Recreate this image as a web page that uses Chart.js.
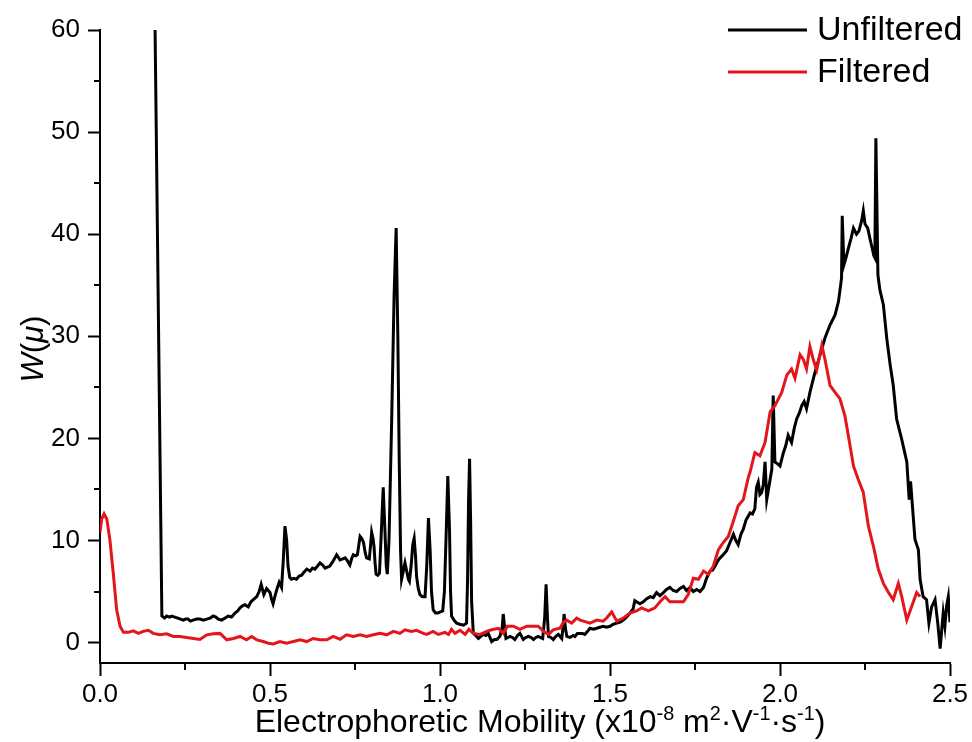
<!DOCTYPE html>
<html>
<head>
<meta charset="utf-8">
<title>Electrophoretic mobility distribution</title>
<script src="https://cdn.jsdelivr.net/npm/chart.js@4.4.1/dist/chart.umd.min.js"></script>
<style>
  html, body { margin: 0; padding: 0; background: #ffffff; }
  #wrap { position: relative; width: 972px; height: 742px; }
</style>
</head>
<body>
<div id="wrap"><canvas id="chart" width="972" height="742"></canvas></div>
<script>
// Mobility (x1e-8 m2/Vs) and W(mu) for the unfiltered sample
const unfilteredX = [0.162,0.182,0.19,0.196,0.205,0.211,0.22,0.229,0.245,0.252,0.259,0.266,0.274,0.284,0.294,0.304,0.314,0.324,0.333,0.341,0.348,0.358,0.368,0.377,0.387,0.397,0.405,0.412,0.419,0.426,0.436,0.444,0.451,0.461,0.468,0.474,0.478,0.482,0.49,0.5,0.505,0.509,0.515,0.52,0.527,0.534,0.539,0.544,0.549,0.553,0.558,0.563,0.57,0.578,0.585,0.593,0.6,0.608,0.618,0.625,0.632,0.64,0.647,0.655,0.662,0.669,0.676,0.686,0.696,0.706,0.714,0.721,0.728,0.735,0.74,0.745,0.752,0.757,0.761,0.765,0.77,0.775,0.78,0.784,0.792,0.796,0.799,0.803,0.806,0.809,0.812,0.817,0.822,0.827,0.833,0.838,0.842,0.845,0.85,0.858,0.865,0.871,0.876,0.88,0.884,0.887,0.892,0.897,0.902,0.907,0.91,0.915,0.92,0.924,0.928,0.931,0.936,0.941,0.948,0.956,0.961,0.966,0.971,0.975,0.98,0.987,0.994,1.001,1.008,1.013,1.018,1.023,1.028,1.031,1.034,1.041,1.049,1.058,1.069,1.078,1.081,1.084,1.087,1.09,1.093,1.098,1.105,1.113,1.12,1.127,1.135,1.142,1.152,1.16,1.167,1.176,1.183,1.186,1.19,1.194,1.2,1.206,1.213,1.22,1.228,1.235,1.245,1.252,1.26,1.268,1.275,1.282,1.289,1.295,1.302,1.308,1.312,1.316,1.319,1.326,1.333,1.34,1.348,1.358,1.362,1.365,1.369,1.373,1.382,1.392,1.397,1.404,1.412,1.419,1.426,1.434,1.441,1.451,1.461,1.47,1.48,1.49,1.5,1.51,1.52,1.53,1.539,1.549,1.559,1.568,1.573,1.578,1.588,1.598,1.608,1.618,1.627,1.637,1.647,1.657,1.666,1.676,1.686,1.696,1.706,1.716,1.725,1.735,1.745,1.755,1.765,1.775,1.784,1.794,1.802,1.809,1.817,1.824,1.833,1.843,1.853,1.863,1.87,1.877,1.885,1.892,1.9,1.912,1.919,1.926,1.931,1.936,1.941,1.946,1.951,1.956,1.961,1.966,1.971,1.976,1.98,1.985,1.993,2.0,2.01,2.017,2.024,2.034,2.042,2.049,2.057,2.064,2.071,2.078,2.088,2.103,2.118,2.132,2.147,2.162,2.172,2.181,2.183,2.188,2.195,2.201,2.209,2.216,2.225,2.232,2.24,2.245,2.25,2.258,2.265,2.272,2.276,2.279,2.282,2.288,2.294,2.304,2.314,2.324,2.333,2.343,2.358,2.373,2.38,2.384,2.397,2.407,2.412,2.421,2.431,2.438,2.446,2.456,2.464,2.471,2.48,2.485,2.49,2.495,2.5];
const unfilteredY = [60,2.6,2.4,2.6,2.5,2.6,2.5,2.4,2.2,2.3,2.3,2.1,2.2,2.3,2.3,2.2,2.3,2.4,2.6,2.5,2.3,2.2,2.4,2.6,2.5,2.9,3.1,3.4,3.6,3.7,3.5,4.0,4.2,4.5,5.0,5.7,5.2,4.7,5.3,4.9,4.2,3.8,4.6,5.2,5.9,5.4,8.0,11.4,10.0,7.5,6.4,6.2,6.3,6.2,6.5,6.6,6.9,7.2,7.0,7.3,7.2,7.5,7.8,7.6,7.3,7.4,7.5,8.0,8.6,8.1,8.2,8.3,8.0,7.6,8.2,8.6,8.5,8.6,9.5,10.4,10.2,9.8,8.8,8.3,8.2,9.6,10.8,10.2,9.4,7.8,6.7,6.6,6.8,10.5,15.2,11.0,7.5,6.7,10.0,22.0,34.0,40.6,30.0,18.0,9.0,6.2,7.0,7.8,7.0,6.2,6.0,7.5,9.6,10.2,8.5,6.5,5.3,4.7,4.5,4.5,7.5,12.2,9.0,5.0,3.2,2.9,2.9,3.0,3.1,5.0,10.5,16.3,11.0,5.0,2.6,2.2,1.9,1.8,1.7,1.9,6.0,14.0,18.0,12.0,4.0,0.9,0.7,0.4,0.6,0.8,0.7,0.9,0.1,0.3,0.3,0.6,1.5,2.8,1.5,0.4,0.5,0.6,0.5,0.3,0.7,0.9,0.3,0.5,0.6,0.5,0.3,0.5,0.6,0.5,0.4,2.5,5.7,2.5,0.6,0.5,0.3,0.6,0.8,0.4,1.5,2.8,1.4,0.6,0.5,0.7,0.6,0.9,0.9,0.9,0.8,1.1,1.4,1.3,1.4,1.5,1.6,1.5,1.6,1.8,1.9,2.0,2.2,2.5,2.9,3.3,4.1,4.0,3.8,4.0,4.3,4.5,4.4,4.9,4.6,4.9,5.2,5.4,5.1,5.0,5.3,5.5,5.1,5.4,5.0,5.2,5.0,5.4,6.3,7.0,7.1,7.5,8.0,8.3,8.6,9.0,9.8,10.6,10.0,9.6,10.6,11.1,12.0,12.7,12.6,13.1,15.2,15.7,14.5,14.7,15.5,17.7,14.0,15.0,16.0,17.0,24.2,17.7,17.5,17.3,18.6,19.3,20.3,19.6,21.0,21.9,22.5,23.2,23.6,22.9,24.5,26.5,28.2,29.8,31.1,32.1,33.4,35.7,41.8,37.0,37.8,38.6,39.6,40.6,40.0,40.3,41.3,42.3,41.0,40.6,39.5,38.5,37.9,37.7,49.4,36.0,34.5,33.1,29.8,27.2,25.2,21.9,19.9,17.7,14.0,15.8,10.1,9.1,6.2,4.5,4.2,1.9,3.5,4.2,1.9,-0.6,2.9,1.6,3.6,4.5,2.0,4.7];

// Mobility and W(mu) for the filtered sample
const filteredX = [0,0.005,0.012,0.02,0.029,0.039,0.049,0.059,0.069,0.083,0.098,0.113,0.127,0.142,0.157,0.176,0.196,0.216,0.235,0.255,0.275,0.294,0.314,0.333,0.353,0.373,0.392,0.412,0.431,0.446,0.461,0.48,0.495,0.51,0.529,0.549,0.569,0.588,0.608,0.627,0.647,0.667,0.686,0.706,0.725,0.745,0.765,0.784,0.804,0.824,0.843,0.863,0.882,0.897,0.916,0.931,0.951,0.961,0.98,0.995,1.015,1.025,1.034,1.044,1.059,1.074,1.085,1.098,1.118,1.137,1.152,1.172,1.186,1.198,1.216,1.235,1.255,1.275,1.289,1.304,1.319,1.333,1.353,1.363,1.373,1.387,1.402,1.412,1.422,1.441,1.461,1.48,1.49,1.505,1.52,1.539,1.559,1.578,1.593,1.613,1.632,1.647,1.662,1.676,1.696,1.716,1.73,1.745,1.76,1.775,1.789,1.804,1.819,1.833,1.848,1.863,1.877,1.892,1.907,1.912,1.926,1.941,1.956,1.971,1.985,2.005,2.02,2.034,2.044,2.059,2.069,2.078,2.088,2.098,2.108,2.123,2.132,2.147,2.162,2.176,2.191,2.206,2.216,2.23,2.245,2.26,2.275,2.289,2.304,2.319,2.333,2.348,2.358,2.373,2.387,2.402,2.412];
const filteredY = [10.8,12.1,12.6,12.1,10.1,6.8,3.2,1.6,1.0,1.0,1.15,0.9,1.1,1.2,0.9,0.76,0.86,0.6,0.6,0.5,0.4,0.3,0.76,0.86,0.9,0.27,0.4,0.6,0.27,0.6,0.27,0.1,-0.06,-0.13,0.1,-0.06,0.1,0.27,0.1,0.4,0.27,0.27,0.6,0.33,0.76,0.6,0.76,0.6,0.76,0.9,0.76,1.1,0.9,1.25,1.1,1.2,0.9,0.8,1.1,0.8,1.0,0.8,1.3,0.9,1.2,0.8,1.3,0.9,0.8,1.1,1.25,1.4,0.9,1.6,1.6,1.3,1.6,1.6,1.6,1.1,0.8,1.25,1.4,2.0,2.2,1.9,2.4,2.2,2.1,1.9,2.2,2.1,2.4,3.0,2.1,2.4,2.9,3.1,3.4,3.1,3.4,4.0,4.5,4.0,4.0,4.0,4.7,6.3,6.2,7.0,6.7,7.5,9.1,9.8,10.4,11.9,13.4,14.0,16.2,16.7,18.6,18.3,19.6,22.6,23.2,24.5,26.2,26.8,25.9,28.2,27.7,26.8,29.0,27.7,26.7,29.1,27.8,25.2,24.5,23.9,22.2,19.3,17.3,16.0,14.7,11.4,9.4,7.2,5.8,4.9,4.2,5.8,4.5,2.2,3.5,4.9,4.5];

const seriesNames = ['Unfiltered', 'Filtered'];
const seriesColors = ['#000000', '#e3161c'];
const xMajorTicks = [0, 0.5, 1.0, 1.5, 2.0, 2.5];
const xMinorTicks = [0.25, 0.75, 1.25, 1.75, 2.25];
const yMajorTicks = [0, 10, 20, 30, 40, 50, 60];
const yMinorTicks = [5, 15, 25, 35, 45, 55];

const FONT = '"Liberation Sans", Arial, Helvetica, sans-serif';

function toPoints(xs, ys) {
  return xs.map((x, i) => ({ x: x, y: ys[i] }));
}

// Measure / draw a run of text pieces, some of them raised as superscripts
function richWidth(ctx, parts, size) {
  let w = 0;
  for (const p of parts) {
    const s = p.sup ? size * 0.62 : size;
    ctx.font = (p.italic ? 'italic ' : '') + s + 'px ' + FONT;
    w += ctx.measureText(p.t).width;
  }
  return w;
}
function drawRich(ctx, parts, x, y, size) {
  let cx = x;
  for (const p of parts) {
    const s = p.sup ? size * 0.62 : size;
    ctx.font = (p.italic ? 'italic ' : '') + s + 'px ' + FONT;
    ctx.fillText(p.t, cx, p.sup ? y - size * 0.38 : y);
    cx += ctx.measureText(p.t).width;
  }
}

const xTitle = [
  { t: 'Electrophoretic Mobility (x10' }, { t: '-8', sup: true },
  { t: ' m' }, { t: '2', sup: true },
  { t: '\u00b7V' }, { t: '-1', sup: true },
  { t: '\u00b7s' }, { t: '-1', sup: true },
  { t: ')' }
];
const yTitle = [
  { t: 'W', italic: true }, { t: '(' }, { t: '\u03bc', italic: true }, { t: ')' }
];

const decorations = {
  id: 'decorations',
  afterDraw(chart) {
    const ctx = chart.ctx;
    const xs = chart.scales.x, ys = chart.scales.y;
    const area = chart.chartArea;
    ctx.save();
    // minor ticks
    ctx.strokeStyle = '#000';
    ctx.lineWidth = 2;
    ctx.beginPath();
    for (const v of xMinorTicks) {
      const px = Math.round(xs.getPixelForValue(v));
      ctx.moveTo(px, area.bottom);
      ctx.lineTo(px, area.bottom + 7);
    }
    for (const v of yMinorTicks) {
      const py = Math.round(ys.getPixelForValue(v));
      ctx.moveTo(area.left, py);
      ctx.lineTo(area.left - 6, py);
    }
    ctx.stroke();

    // axis titles
    ctx.fillStyle = '#000';
    ctx.textBaseline = 'alphabetic';
    ctx.textAlign = 'left';
    const xSize = 32;
    const wx = richWidth(ctx, xTitle, xSize);
    drawRich(ctx, xTitle, 540 - wx / 2, 732, xSize);

    ctx.save();
    ctx.translate(43, 349);
    ctx.rotate(-Math.PI / 2);
    const wy = richWidth(ctx, yTitle, 31);
    drawRich(ctx, yTitle, -wy / 2, 0, 31);
    ctx.restore();

    // legend
    const rows = [30, 72];
    ctx.font = '34px ' + FONT;
    ctx.textBaseline = 'middle';
    seriesNames.forEach((name, i) => {
      ctx.strokeStyle = seriesColors[i];
      ctx.lineWidth = 3;
      ctx.beginPath();
      ctx.moveTo(728, rows[i]);
      ctx.lineTo(807, rows[i]);
      ctx.stroke();
      ctx.fillStyle = '#000';
      ctx.fillText(name, 817, rows[i] + 1);
    });
    ctx.restore();
  }
};

const axisCommon = {
  type: 'linear',
  border: { display: true, color: '#000', width: 2 },
  grid: { drawOnChartArea: false, drawTicks: true, color: '#000', tickColor: '#000', tickWidth: 2 },
  ticks: { color: '#000', font: { family: FONT, size: 26 } }
};

new Chart(document.getElementById('chart'), {
  type: 'line',
  data: {
    datasets: [
      {
        label: seriesNames[1],
        data: toPoints(filteredX, filteredY),
        borderColor: seriesColors[1],
        borderWidth: 3,
        pointRadius: 0,
        tension: 0,
        order: 0
      },
      {
        label: seriesNames[0],
        data: toPoints(unfilteredX, unfilteredY),
        borderColor: seriesColors[0],
        borderWidth: 3,
        pointRadius: 0,
        tension: 0,
        order: 1
      }
    ]
  },
  options: {
    responsive: false,
    animation: false,
    layout: { padding: { left: 0, top: 30, right: 22, bottom: 0 } },
    plugins: { legend: { display: false }, tooltip: { enabled: false } },
    scales: {
      x: {
        ...axisCommon,
        min: 0,
        max: 2.5,
        grid: { ...axisCommon.grid, tickLength: 13 },
        ticks: { ...axisCommon.ticks, padding: 3, maxRotation: 0, callback: v => Number(v).toFixed(1) },
        afterBuildTicks: s => { s.ticks = xMajorTicks.map(v => ({ value: v })); },
        afterFit: s => { s.height = 79; }
      },
      y: {
        ...axisCommon,
        min: -2,
        max: 60,
        grid: { ...axisCommon.grid, tickLength: 12 },
        ticks: { ...axisCommon.ticks, padding: 8, callback: v => String(v) },
        afterBuildTicks: s => { s.ticks = yMajorTicks.map(v => ({ value: v })); },
        afterFit: s => { s.width = 100; }
      }
    }
  },
  plugins: [decorations]
});
</script>
</body>
</html>
